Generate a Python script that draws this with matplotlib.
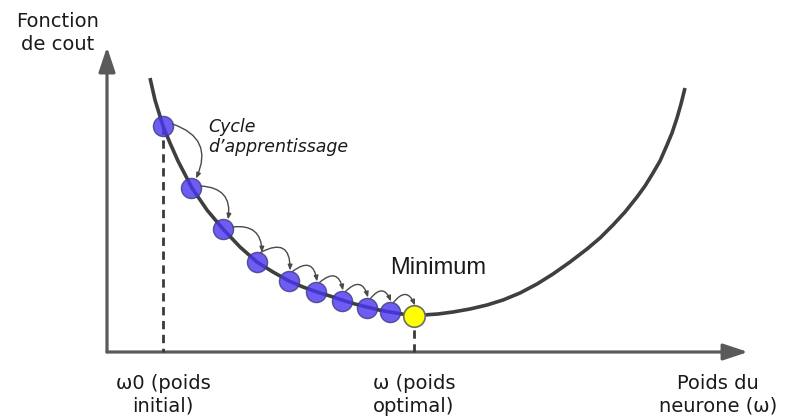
import matplotlib
matplotlib.use("Agg")
import matplotlib.pyplot as plt
from matplotlib.patches import FancyArrowPatch


# cost curve (x = weight, y = cost, image units, y down)
curve_w = [150, 155, 163, 170, 178, 192, 207, 223, 240, 257, 273, 289, 303,
           317, 330, 342, 355, 367, 379, 390, 402, 414, 423, 438, 453, 470,
           487, 503, 520, 537, 553, 570, 587, 600, 613, 625, 637, 645, 653,
           660, 667, 672, 677, 681, 685]
curve_cost = [78, 100, 126, 143, 161, 188, 210, 229, 247, 262, 272, 281, 287,
              292, 296, 300, 304, 307, 310, 312, 314, 316, 315, 314, 312, 309,
              305, 300, 293, 284, 274, 262, 249, 238, 225, 212, 197, 186, 173,
              161, 145, 133, 118, 104, 88]

# learning steps (blue) and the minimum (yellow)
step_w = [163, 191, 223, 257, 289, 316, 342, 367, 390]
step_cost = [126, 188, 229, 262, 281, 292, 301, 308, 312]
min_w = 414
min_cost = 316

# axes
origin = (107, 352)
x_end = 748
y_end = 47

labels_x = ["\u03c90 (poids\ninitial)", "\u03c9 (poids\noptimal)"]
label_y = "Fonction\nde cout"
label_x_axis = "Poids du\nneurone (\u03c9)"
label_cycle = "Cycle\nd\u2019apprentissage"
label_min = "Minimum"

AXIS_COL = "#5a5a5a"
LINE_COL = "#3f3f3f"
TEXT_COL = "#1a1a1a"

fig = plt.figure(figsize=(7.89, 4.20), dpi=100)
ax = fig.add_axes([0, 0, 1, 1])
ax.set_xlim(0, 789)
ax.set_ylim(420, 0)
ax.axis("off")

# axis arrows
for end in [(x_end, origin[1]), (origin[0], y_end)]:
    arr = FancyArrowPatch(origin, end, arrowstyle="-|>,head_length=15,head_width=5",
                          mutation_scale=1, color=AXIS_COL, lw=2.3,
                          shrinkA=0, shrinkB=0, zorder=1)
    ax.add_patch(arr)

# dashed guides
ax.plot([step_w[0], step_w[0]], [step_cost[0], origin[1]], ls=(0, (3, 2)),
        color="#3a3a3a", lw=2, zorder=1)
ax.plot([min_w, min_w], [min_cost, origin[1]], ls=(0, (3, 2)),
        color="#3a3a3a", lw=2, zorder=1)

# cost curve
ax.plot(curve_w, curve_cost, color=LINE_COL, lw=2.6, solid_capstyle="butt",
        solid_joinstyle="round", zorder=2)

# step dots
ax.scatter(step_w, step_cost, s=210, color="#4a35f0", alpha=0.8,
           edgecolor="#3b3b7a", linewidth=1, zorder=3)
ax.scatter([min_w], [min_cost], s=240, color="#ffff00", edgecolor="#6b6b6b",
           linewidth=1.2, zorder=4)

# curved arrows between the steps
r = 10
ws = step_w + [min_w]
cs = step_cost + [min_cost]
for k in range(len(ws) - 1):
    steep = k < 3
    if steep:
        start = (ws[k] + r * 0.95, cs[k] - r * 0.2)
        end = (ws[k + 1] + r * 0.5, cs[k + 1] - r * 0.95)
        rad = -0.55
    else:
        start = (ws[k] + r * 0.35, cs[k] - r * 0.95)
        end = (ws[k + 1] + r * 0.1, cs[k + 1] - r * 1.05)
        rad = -0.85
    arc = FancyArrowPatch(start, end, connectionstyle="arc3,rad=%.2f" % rad,
                          arrowstyle="-|>,head_length=3.2,head_width=1.3",
                          mutation_scale=1, color="#4a4a4a", lw=1,
                          shrinkA=0, shrinkB=0, zorder=5)
    ax.add_patch(arc)

# texts
ax.text(58, 33, label_y, ha="center", va="center", fontsize=14,
        color=TEXT_COL, linespacing=1.25)
ax.text(208, 137, label_cycle, ha="left", va="center", fontsize=12.5,
        style="italic", color=TEXT_COL, linespacing=1.2)
ax.text(438, 268, label_min, ha="center", va="center", fontsize=17,
        family="Liberation Sans", color=TEXT_COL)
ax.text(step_w[0], 395, labels_x[0], ha="center", va="center", fontsize=14,
        color=TEXT_COL, linespacing=1.25)
ax.text(min_w, 395, labels_x[1], ha="center", va="center", fontsize=14,
        color=TEXT_COL, linespacing=1.25)
ax.text(718, 395, label_x_axis, ha="center", va="center", fontsize=14,
        color=TEXT_COL, linespacing=1.25)

fig.savefig("out.png", dpi=100)
